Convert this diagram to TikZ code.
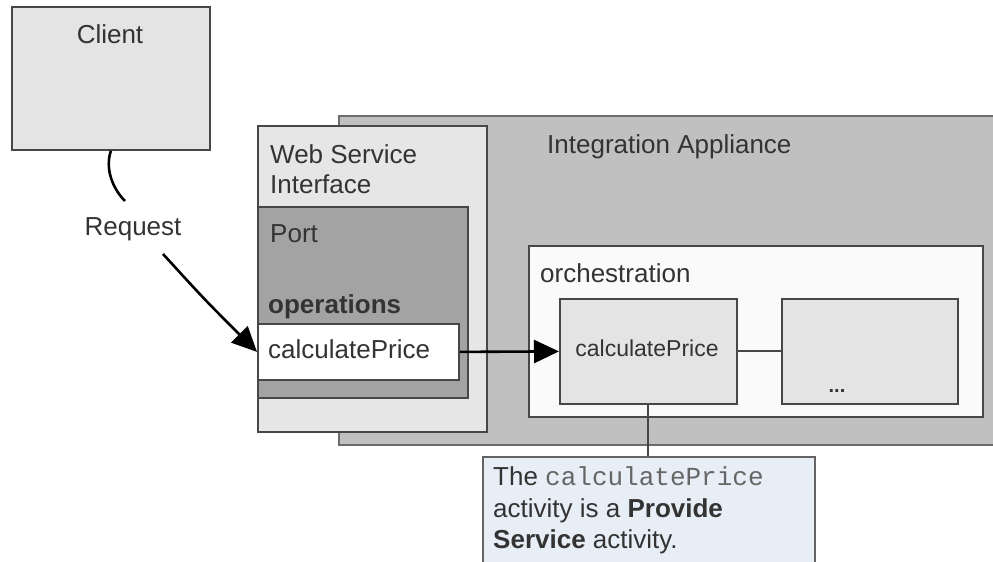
\documentclass[tikz,border=0pt]{standalone}
\usepackage{fontspec}
\setmainfont{Liberation Sans}
\setmonofont{Liberation Mono}
\usetikzlibrary{arrows.meta}
\definecolor{txt}{HTML}{333333}
\definecolor{bd}{HTML}{474747}
\definecolor{clientfill}{HTML}{E4E4E4}
\definecolor{iafill}{HTML}{C0C0C0}
\definecolor{wsifill}{HTML}{E6E6E6}
\definecolor{portfill}{HTML}{A3A3A3}
\definecolor{orchfill}{HTML}{FAFAFA}
\definecolor{notefill}{HTML}{E8EEF6}
\definecolor{monotxt}{HTML}{666666}
\begin{document}
\begin{tikzpicture}[x=1pt,y=-1pt,
  box/.style={draw=bd, line width=1.8pt, inner sep=0pt, anchor=north west},
  lbl/.style={anchor=base west, inner sep=0pt, text=txt, font=\fontsize{26}{30}\selectfont},
  clbl/.style={lbl, anchor=base},
  conn/.style={line width=2.6pt, black},
  arr/.style={conn, -{Triangle[length=25pt,width=23pt]}},
  thin/.style={line width=1.9pt, bd}
]
\useasboundingbox (0,0) rectangle (993,562);
\fill[white] (0,0) rectangle (993,562);

% boxes
\node[box, fill=clientfill, minimum width=198pt, minimum height=143pt] (client) at (11,6) {};
\node[box, fill=iafill, draw=bd!80, minimum width=690pt, minimum height=329pt] (ia) at (338,115) {};
\node[box, fill=wsifill, minimum width=229pt, minimum height=306pt] (wsi) at (257,125) {};
\node[box, fill=portfill, minimum width=210pt, minimum height=191pt] (port) at (257,206) {};
\node[box, fill=white, minimum width=201pt, minimum height=56pt] (calcL) at (257,323) {};
\node[box, fill=orchfill, minimum width=454pt, minimum height=171pt] (orch) at (528,245) {};
\node[box, fill=clientfill, minimum width=177pt, minimum height=105pt] (calcR) at (559,298) {};
\node[box, fill=clientfill, minimum width=176pt, minimum height=105pt] (dots) at (781,298) {};
\node[box, fill=notefill, draw=bd!85, minimum width=332pt, minimum height=150pt] (note) at (482,456) {};

% labels
\node[clbl] (clientlbl) at (110,43) {Client};
\node[clbl] (reqlbl) at (133,235) {Request};
\node[lbl] (wsi1) at (270,163) {Web Service};
\node[lbl] (wsi2) at (270,193) {Interface};
\node[lbl] (portlbl) at (270,242) {Port};
\node[lbl, font=\fontsize{26}{30}\selectfont\bfseries] (opslbl) at (268,313) {operations};
\node[lbl] (calcLlbl) at (268,358) {calculatePrice};
\node[lbl] (ialbl) at (547,153) {Integration Appliance};
\node[lbl] (orchlbl) at (540,282) {orchestration};
\node[clbl, font=\fontsize{23}{27}\selectfont] (calcRlbl) at (647,356) {calculatePrice};
\node[clbl, font=\fontsize{20}{24}\selectfont\bfseries] (dotslbl) at (837,392) {...};
\node[lbl] (note1) at (493,485) {The {\ttfamily\color{monotxt}calculatePrice}};
\node[lbl] (note2) at (493,517) {activity is a \textbf{Provide}};
\node[lbl] (note3) at (493,548) {\textbf{Service} activity.};

% connectors
\coordinate (reqtop) at (125,201);
\coordinate (reqbot) at (163,254);
\draw[conn] (client.south) .. controls (105,168) and (112,188) .. (reqtop);
\draw[arr] (reqbot) .. controls (205,300) .. (calcL.west);
\draw[arr] (calcL.east) -- (calcR.west);
\draw[thin] (calcR.east) -- (dots.west);
\draw[thin] (calcR.south) -- (calcR.south |- note.north);
\end{tikzpicture}
\end{document}
